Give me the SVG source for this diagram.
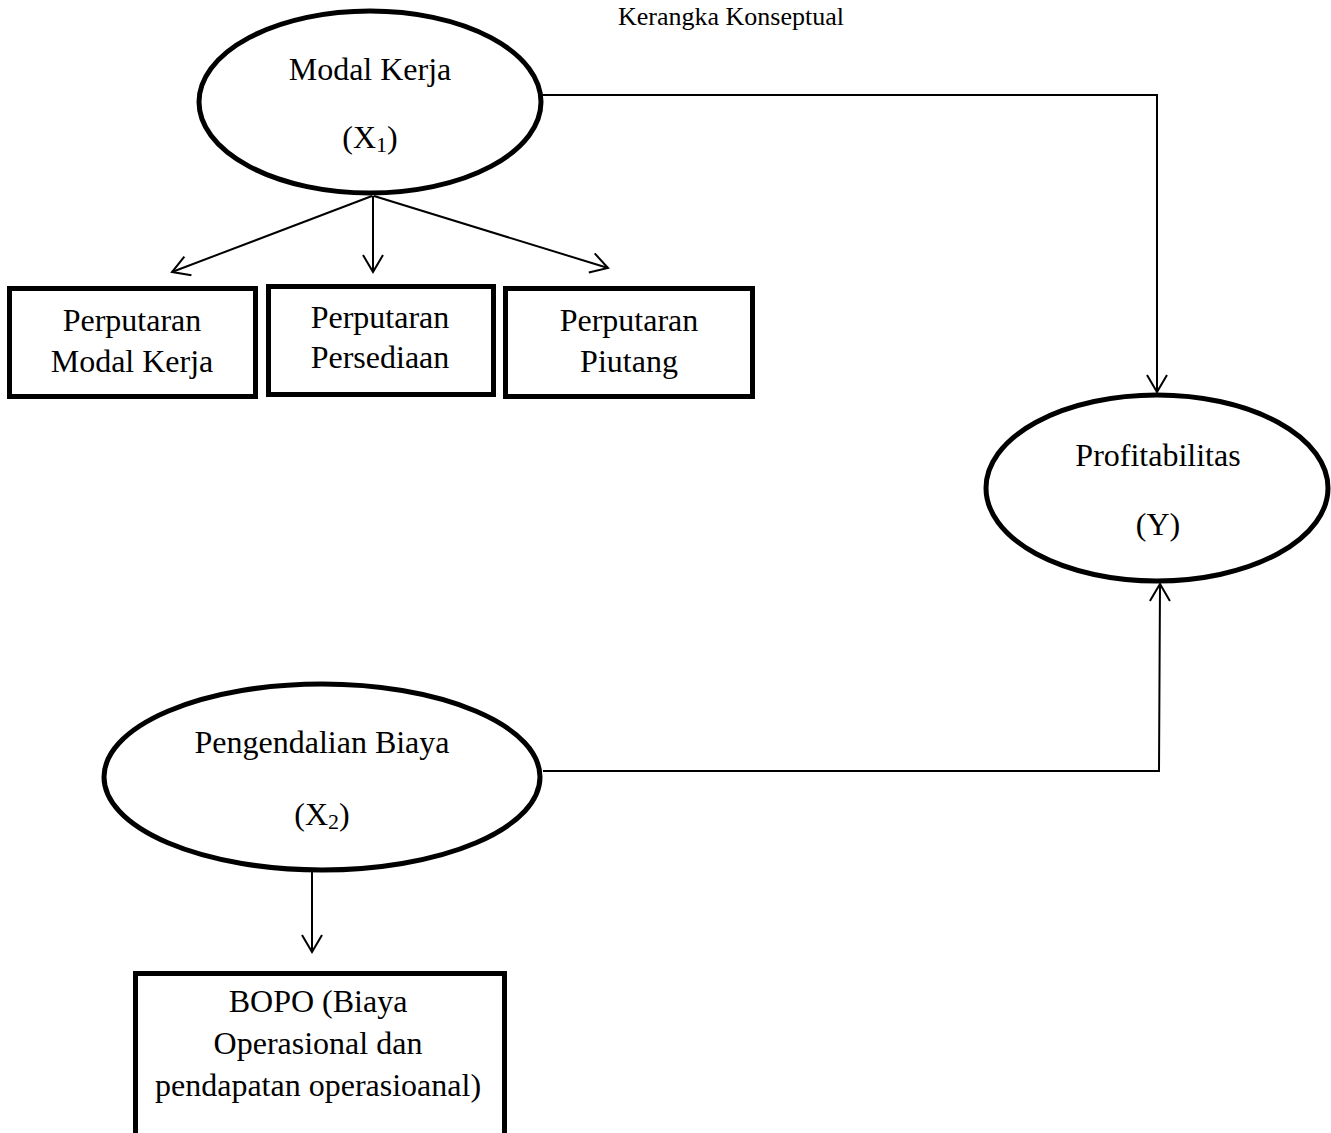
<svg xmlns="http://www.w3.org/2000/svg" width="1331" height="1133" viewBox="0 0 1331 1133">
<style>
text{font-family:"Liberation Serif","Times New Roman",serif;fill:#000;text-anchor:middle}
.t{font-size:32px}
.title{font-size:26px}
.node{fill:#fff;stroke:#000;stroke-width:5}
.conn{fill:none;stroke:#000;stroke-width:2}
</style>
<defs>
<marker id="arr" viewBox="0 0 22 22" refX="20" refY="11" markerWidth="22" markerHeight="22" markerUnits="userSpaceOnUse" orient="auto">
<path d="M3,1 L20,11 L3,21" fill="none" stroke="#000" stroke-width="2"/>
</marker>
</defs>
<rect width="1331" height="1133" fill="#fff"/>
<text class="title" x="731" y="25">Kerangka Konseptual</text>
<g id="connectors">
<line class="conn" x1="372" y1="196" x2="172" y2="272" marker-end="url(#arr)"/>
<line class="conn" x1="373" y1="196" x2="373" y2="272" marker-end="url(#arr)"/>
<line class="conn" x1="374" y1="196" x2="608" y2="268" marker-end="url(#arr)"/>
<polyline class="conn" points="542,95 1157,95 1157,392" marker-end="url(#arr)"/>
<polyline class="conn" points="543,771 1159,771 1160,584" marker-end="url(#arr)"/>
<line class="conn" x1="312" y1="872" x2="312" y2="952" marker-end="url(#arr)"/>
</g>
<g id="modal-kerja">
<ellipse class="node" cx="370" cy="102" rx="171" ry="91"/>
<text class="t" x="370" y="80">Modal Kerja</text>
<text class="t" x="370" y="148">(X<tspan font-size="22" dy="4">1</tspan><tspan dy="-4">)</tspan></text>
</g>
<g id="perputaran-modal-kerja">
<rect class="node" x="9.5" y="288.5" width="246" height="108"/>
<text class="t" x="132" y="331">Perputaran</text>
<text class="t" x="132" y="372">Modal Kerja</text>
</g>
<g id="perputaran-persediaan">
<rect class="node" x="268.5" y="286.5" width="225" height="108"/>
<text class="t" x="380" y="328">Perputaran</text>
<text class="t" x="380" y="368">Persediaan</text>
</g>
<g id="perputaran-piutang">
<rect class="node" x="505.5" y="288.5" width="247" height="108"/>
<text class="t" x="629" y="331">Perputaran</text>
<text class="t" x="629" y="372">Piutang</text>
</g>
<g id="profitabilitas">
<ellipse class="node" cx="1157" cy="488" rx="171" ry="93"/>
<text class="t" x="1158" y="466">Profitabilitas</text>
<text class="t" x="1158" y="535">(Y)</text>
</g>
<g id="pengendalian-biaya">
<ellipse class="node" cx="322" cy="777" rx="218" ry="93"/>
<text class="t" x="322" y="753">Pengendalian Biaya</text>
<text class="t" x="322" y="825">(X<tspan font-size="22" dy="4">2</tspan><tspan dy="-4">)</tspan></text>
</g>
<g id="bopo">
<rect class="node" x="135.5" y="973.5" width="369" height="180"/>
<text class="t" x="318" y="1012">BOPO (Biaya</text>
<text class="t" x="318" y="1054">Operasional dan</text>
<text class="t" x="318" y="1096">pendapatan operasioanal)</text>
</g>
</svg>
